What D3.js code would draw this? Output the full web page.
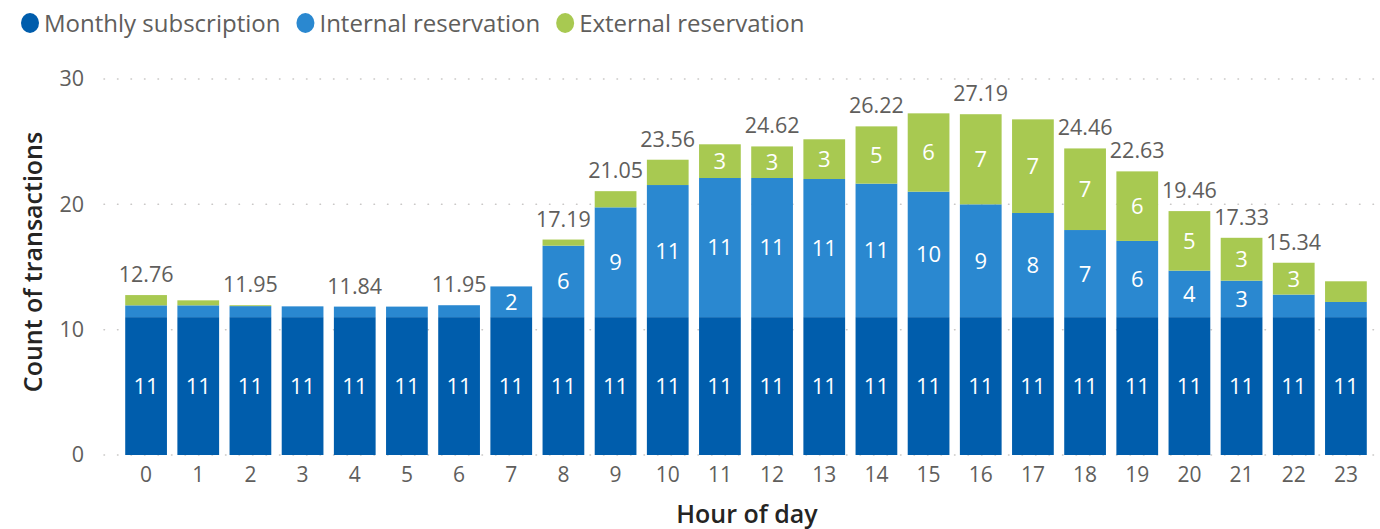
<!DOCTYPE html>
<html>
<head>
<meta charset="utf-8">
<script src="https://cdn.jsdelivr.net/npm/d3@7"></script>
<style>
  body { margin: 0; background: #fff; }
  svg text { font-family: "Segoe UI", "Open Sans", sans-serif; }
</style>
</head>
<body>
<svg class="js-chart"></svg>
<script>
// hours of the day (x categories)
const hours = d3.range(0, 24).map(String);

// stacked series values
const monthly = [11, 11, 11, 11, 11, 11, 11, 11, 11, 11, 11, 11,
                 11, 11, 11, 11, 11, 11, 11, 11, 11, 11, 11, 11];
const internal = [0.94, 0.94, 0.88, 0.86, 0.84, 0.84, 0.95, 2.45, 5.70, 8.76, 10.54, 11.10,
                  11.10, 11.02, 10.65, 10.01, 9.00, 8.31, 6.95, 6.08, 3.71, 2.91, 1.80, 1.21];
const external = [0.82, 0.40, 0.07, 0, 0, 0, 0, 0, 0.49, 1.29, 2.02, 2.69,
                  2.52, 3.17, 4.57, 6.25, 7.19, 7.47, 6.51, 5.55, 4.75, 3.42, 2.54, 1.65];

// hours whose total label is visible in the original
const totalLabelHours = ["0", "2", "4", "6", "8", "9", "10", "12", "14", "16", "18", "19", "20", "21", "22"];

const seriesNames = ["Monthly subscription", "Internal reservation", "External reservation"];
const yTicks = [0, 10, 20, 30];

const colors = ["#005dac", "#2a88d0", "#a8c951"];

const rows = hours.map((h, i) => ({
    hour: h,
    "Monthly subscription": monthly[i],
    "Internal reservation": internal[i],
    "External reservation": external[i]
}));

const svgWidth = 1380;
const svgHeight = 529;

const svg = d3.select('.js-chart')
    .attr('width', svgWidth)
    .attr('height', svgHeight);

const x = d3.scaleBand()
    .domain(hours)
    .range([120, 1372])
    .paddingInner(0.2)
    .paddingOuter(0.1);

const y = d3.scaleLinear()
    .domain([0, 30])
    .range([455, 79]);

// dotted gridlines
svg.append('g')
    .selectAll('line')
    .data(yTicks)
    .join('line')
    .attr('x1', 104)
    .attr('x2', 1376)
    .attr('y1', d => y(d))
    .attr('y2', d => y(d))
    .attr('stroke', '#c8c6c4')
    .attr('stroke-width', 1.5)
    .attr('stroke-linecap', 'round')
    .attr('stroke-dasharray', '0.5,13');

// y axis labels
const yAxis = svg.append('g')
    .attr('transform', 'translate(84,0)')
    .call(d3.axisLeft(y).tickValues(yTicks).tickSize(0).tickPadding(0));
yAxis.select('.domain').remove();
yAxis.selectAll('text')
    .attr('font-size', 21.5)
    .attr('fill', '#605e5c')
    .attr('font-family', null);

// x axis labels
const xAxis = svg.append('g')
    .attr('transform', 'translate(0,455)')
    .call(d3.axisBottom(x).tickSize(0).tickPadding(12));
xAxis.select('.domain').remove();
xAxis.selectAll('text')
    .attr('font-size', 21)
    .attr('fill', '#605e5c')
    .attr('font-family', null);

// stacked bars
const stacked = d3.stack().keys(seriesNames)(rows);

const layers = svg.append('g')
    .selectAll('g')
    .data(stacked)
    .join('g')
    .attr('fill', (d, i) => colors[i]);

layers.selectAll('rect')
    .data(d => d)
    .join('rect')
    .attr('x', d => x(d.data.hour))
    .attr('width', x.bandwidth())
    .attr('y', d => y(d[1]))
    .attr('height', d => y(d[0]) - y(d[1]));

// segment labels (only where the segment is tall enough)
layers.selectAll('text')
    .data(d => d)
    .join('text')
    .filter(d => y(d[0]) - y(d[1]) >= 28)
    .attr('x', d => x(d.data.hour) + x.bandwidth() / 2)
    .attr('y', d => (y(d[0]) + y(d[1])) / 2)
    .attr('dy', '0.36em')
    .attr('text-anchor', 'middle')
    .attr('font-size', 22)
    .attr('fill', '#fff')
    .text(d => d3.format('.0f')(d[1] - d[0]));

// total labels
const fmt = d3.format('.2f');
svg.append('g')
    .selectAll('text')
    .data(rows.filter(r => totalLabelHours.includes(r.hour)))
    .join('text')
    .attr('x', d => x(d.hour) + x.bandwidth() / 2)
    .attr('y', d => y(d3.sum(seriesNames, k => d[k])) - 13)
    .attr('text-anchor', 'middle')
    .attr('font-size', 21.5)
    .attr('fill', '#605e5c')
    .text(d => fmt(d3.sum(seriesNames, k => d[k])));

// axis titles
svg.append('text')
    .attr('transform', 'translate(42,262) rotate(-90)')
    .attr('text-anchor', 'middle')
    .attr('font-size', 25)
    .attr('font-weight', 600)
    .attr('fill', '#252423')
    .text('Count of transactions');

svg.append('text')
    .attr('x', 747)
    .attr('y', 523)
    .attr('text-anchor', 'middle')
    .attr('font-size', 25)
    .attr('font-weight', 600)
    .attr('fill', '#252423')
    .text('Hour of day');

// legend
const legend = svg.append('g');
let lx = 30;
seriesNames.forEach((name, i) => {
    legend.append('ellipse')
        .attr('cx', lx)
        .attr('cy', 23)
        .attr('rx', 9)
        .attr('ry', 10)
        .attr('fill', colors[i]);
    const t = legend.append('text')
        .attr('x', lx + 14)
        .attr('y', 32)
        .attr('font-size', 24)
        .attr('fill', '#605e5c')
        .text(name);
    lx += 14 + t.node().getComputedTextLength() + 25;
});
</script>
</body>
</html>
